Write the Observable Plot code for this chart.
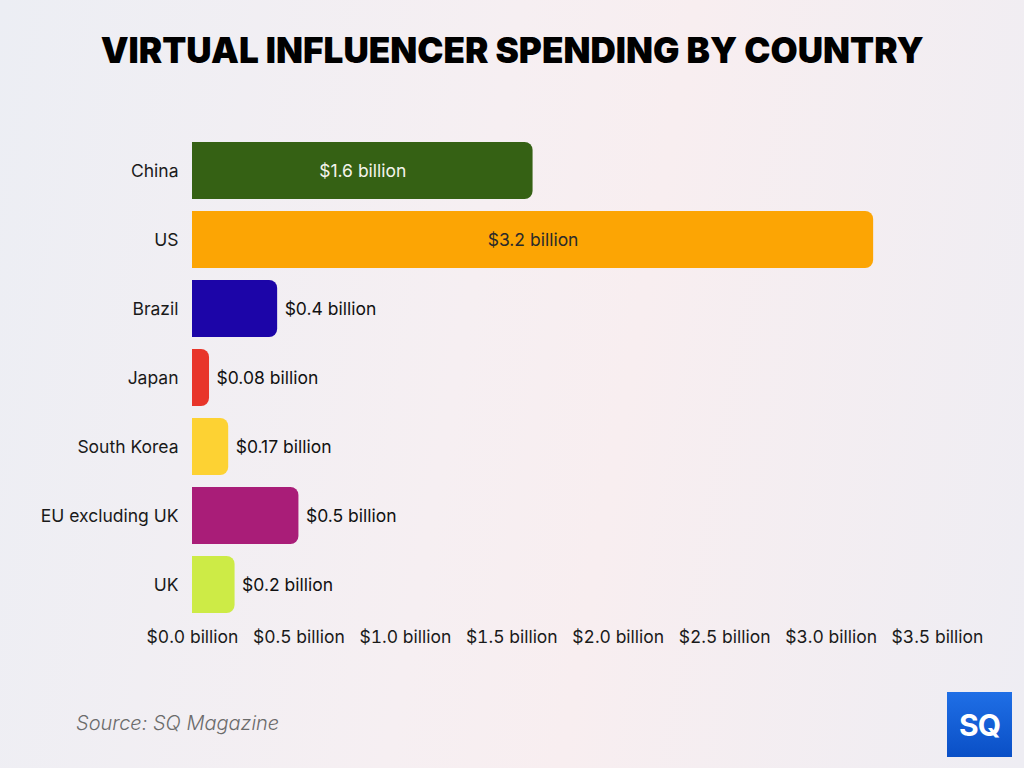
<!DOCTYPE html>
<html>
<head>
<meta charset="utf-8">
<script src="https://cdn.jsdelivr.net/npm/d3@7"></script>
<script src="https://cdn.jsdelivr.net/npm/@observablehq/plot@0.6"></script>
<style>
  html, body { margin: 0; padding: 0; }
  body {
    width: 1024px; height: 768px; position: relative; overflow: hidden;
    background: linear-gradient(100deg, #eceef4 0%, #f6eff2 45%, #f8eef0 60%, #eeedf3 100%);
    font-family: Inter, "DejaVu Sans", sans-serif;
  }
  #title {
    position: absolute; top: 0; left: 0; width: 1024px; height: 100px;
    display: flex; align-items: center; justify-content: center;
    font-family: Inter, sans-serif; font-weight: 900; font-size: 35px; color: #000;
    letter-spacing: 0px; white-space: nowrap;
  }
  #title span { display: inline-block; transform-origin: center; }
  #chart { position: absolute; top: 100px; left: 0; }
  #source {
    position: absolute; left: 76px; top: 711px; font-size: 20px; font-style: italic;
    color: #6b6b6b; font-family: Inter, sans-serif; font-weight: 300;
  }
  #logo {
    position: absolute; left: 947px; top: 692px; width: 65px; height: 65px;
    background: linear-gradient(180deg, #1f6fe6 0%, #0a4fc6 100%);
    color: #fff; font-weight: 700; font-size: 30px; font-family: Inter, sans-serif;
    display: flex; align-items: center; justify-content: center; letter-spacing: -1px;
  }
</style>
</head>
<body>
<div id="title"><span id="tspan">VIRTUAL INFLUENCER SPENDING BY COUNTRY</span></div>
<div id="chart"></div>
<div id="source">Source: SQ Magazine</div>
<div id="logo">SQ</div>
<script>
const countries = ["China", "US", "Brazil", "Japan", "South Korea", "EU excluding UK", "UK"];
const spending = [1.6, 3.2, 0.4, 0.08, 0.17, 0.5, 0.2];
const colors = ["#356114", "#fca504", "#1c05a8", "#e8352a", "#fdd233", "#a91d78", "#cdeb46"];
const valueLabels = ["$1.6 billion", "$3.2 billion", "$0.4 billion", "$0.08 billion", "$0.17 billion", "$0.5 billion", "$0.2 billion"];
const insideLabel = [true, true, false, false, false, false, false];
const insideTextColor = ["#f4f4ec", "#2a2a2a", null, null, null, null, null];
const xTicks = [0, 0.5, 1, 1.5, 2, 2.5, 3, 3.5];

const data = countries.map((c, i) => ({
  country: c, value: spending[i], color: colors[i], label: valueLabels[i],
  inside: insideLabel[i], textColor: insideTextColor[i]
}));

const chart = Plot.plot({
  width: 1024,
  height: 560,
  marginLeft: 192,
  marginRight: 87,
  marginTop: 33,
  marginBottom: 38,
  style: { background: "transparent", fontFamily: "Inter, sans-serif", fontSize: "17.5px", color: "#1a1a1a" },
  x: { domain: [0, 3.5], ticks: xTicks, tickFormat: d => `$${d3.format(".1f")(d)} billion`, tickSize: 0, tickPadding: 8, label: null },
  y: { domain: countries, paddingInner: 0.18, paddingOuter: 0.09, tickSize: 0, tickPadding: 14, label: null },
  marks: [
    Plot.barX(data, { x: "value", y: "country", fill: "color", rx2: 8, r2: 8 }),
    Plot.text(data.filter(d => d.inside), { x: d => d.value / 2, y: "country", text: "label", fill: "textColor", fontSize: 17.5 }),
    Plot.text(data.filter(d => !d.inside), { x: "value", y: "country", text: "label", fill: "#111", textAnchor: "start", dx: 7, fontSize: 17.5 })
  ]
});
document.getElementById("chart").appendChild(chart);

// fit title to reference width
const ts = document.getElementById("tspan");
const w = ts.getBoundingClientRect().width;
ts.style.transform = `scaleX(${823 / w})`;
</script>
</body>
</html>
